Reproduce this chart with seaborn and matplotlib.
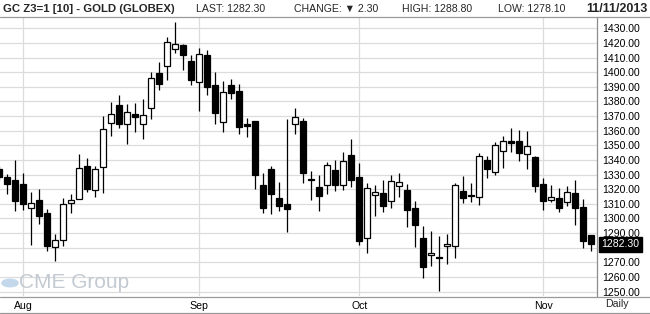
import numpy as np
import pandas as pd
import matplotlib
matplotlib.use("Agg")
import matplotlib.pyplot as plt
from matplotlib.lines import Line2D
from matplotlib.patches import Circle
import seaborn as sns

# ---------------- data ----------------
trading_days = pd.bdate_range("2013-07-29", "2013-11-11").drop(pd.Timestamp("2013-09-02"))

opens = [1334.0, 1328.2, 1326.4, 1323.6, 1307.0, 1312.7, 1303.8, 1280.3, 1285.0, 1310.4,
         1313.1, 1335.7, 1319.3, 1335.0, 1365.1, 1377.6, 1364.4, 1371.5, 1364.9, 1375.3,
         1399.2, 1404.0, 1415.6, 1418.6, 1407.7, 1393.1, 1411.5, 1391.3, 1365.8, 1391.0,
         1386.9, 1364.4, 1366.4, 1322.7, 1333.9, 1314.1, 1310.0, 1364.4, 1366.7, 1327.0,
         1321.3, 1322.7, 1333.0, 1322.7, 1343.2, 1328.2, 1286.5, 1315.9, 1317.2, 1311.8,
         1322.0, 1319.5, 1307.2, 1286.7, 1275.0, 1274.0, 1281.0, 1281.3, 1318.6, 1316.0,
         1314.5, 1339.8, 1331.6, 1345.9, 1353.0, 1352.8, 1343.9, 1341.8, 1323.4, 1312.5,
         1313.8, 1311.6, 1317.2, 1307.7, 1288.5]
highs = [1336.0, 1330.2, 1340.0, 1331.1, 1318.2, 1320.2, 1306.3, 1289.5, 1314.3, 1316.8,
         1344.4, 1341.2, 1336.2, 1370.1, 1379.4, 1384.4, 1378.1, 1379.0, 1381.7, 1399.9,
         1407.0, 1423.8, 1434.6, 1419.0, 1411.8, 1416.6, 1415.4, 1400.2, 1394.0, 1395.4,
         1392.0, 1368.5, 1366.6, 1330.9, 1335.9, 1325.2, 1368.0, 1375.6, 1368.7, 1332.5,
         1329.5, 1338.7, 1340.0, 1345.5, 1354.4, 1338.0, 1324.3, 1323.0, 1326.4, 1329.8,
         1331.1, 1323.6, 1312.0, 1294.9, 1291.5, 1288.1, 1289.5, 1324.1, 1329.1, 1324.3,
         1344.8, 1342.8, 1352.3, 1356.4, 1361.7, 1360.3, 1359.8, 1343.0, 1327.5, 1322.7,
         1321.1, 1322.3, 1326.6, 1313.6, 1288.8]
lows = [1326.0, 1316.8, 1305.4, 1306.1, 1282.2, 1296.5, 1278.1, 1271.2, 1281.5, 1304.0,
        1313.0, 1317.9, 1315.0, 1317.7, 1356.7, 1362.1, 1351.2, 1358.9, 1354.6, 1367.8,
        1388.1, 1394.7, 1413.4, 1401.5, 1391.5, 1373.7, 1384.7, 1364.9, 1358.9, 1381.9,
        1357.6, 1356.0, 1320.4, 1304.0, 1302.9, 1305.4, 1291.0, 1358.0, 1324.5, 1312.9,
        1305.4, 1316.6, 1319.0, 1319.5, 1321.6, 1281.9, 1276.7, 1302.0, 1304.7, 1307.4,
        1315.0, 1294.5, 1280.8, 1259.4, 1267.8, 1250.5, 1268.7, 1273.3, 1310.9, 1311.6,
        1309.5, 1328.0, 1330.0, 1334.8, 1345.7, 1339.6, 1334.1, 1318.4, 1305.6, 1311.1,
        1304.7, 1308.8, 1295.6, 1280.0, 1278.1]
closes = [1328.6, 1323.8, 1312.2, 1310.2, 1310.4, 1301.5, 1281.5, 1285.1, 1309.7, 1312.5,
          1334.3, 1320.0, 1333.6, 1361.0, 1371.5, 1364.9, 1372.6, 1369.2, 1370.8, 1395.8,
          1392.2, 1420.4, 1419.1, 1412.0, 1394.9, 1412.2, 1389.7, 1372.4, 1386.3, 1386.0,
          1362.8, 1363.0, 1330.0, 1307.4, 1317.0, 1308.8, 1306.8, 1369.2, 1331.4, 1326.4,
          1315.6, 1336.4, 1323.2, 1339.1, 1326.1, 1284.9, 1320.7, 1317.9, 1308.8, 1325.7,
          1324.8, 1306.1, 1295.8, 1267.1, 1276.5, 1273.3, 1282.4, 1322.7, 1313.8, 1315.3,
          1342.5, 1333.6, 1350.0, 1352.8, 1351.4, 1344.6, 1349.4, 1322.5, 1312.2, 1314.5,
          1307.4, 1317.9, 1307.4, 1284.6, 1282.3]

price_levels = list(range(1250, 1431, 10))
month_labels = ["Aug", "Sep", "Oct", "Nov"]
title = "GC Z3=1 [10] - GOLD (GLOBEX)"
last_price = 1282.30
header_items = [("LAST: 1282.30", 196), ("CHANGE: \u25BC 2.30", 294),
                ("HIGH: 1288.80", 402), ("LOW: 1278.10", 498)]
date_str = "11/11/2013"

# ---------------- build ----------------
df = pd.DataFrame({"date": trading_days, "open": opens, "high": highs,
                   "low": lows, "close": closes})
df["x"] = np.arange(len(df))
df["up"] = df["close"] >= df["open"]
df["bottom"] = df[["open", "close"]].min(axis=1)
df["height"] = (df["close"] - df["open"]).abs().clip(lower=0.7)

month_start = df["date"].dt.month != df["date"].dt.month.shift(1)
month_x = df.loc[month_start, "x"].tolist()[1:]

sns.set_style("white")
plt.rcParams["font.family"] = ["Liberation Sans", "DejaVu Sans"]

W, H = 650, 314
fig = plt.figure(figsize=(W / 100, H / 100), dpi=100)
fig.patch.set_facecolor("white")

ax_top, ax_bot, ax_right = 17, 296, 597
ax = fig.add_axes([0, 1 - ax_bot / H, ax_right / W, (ax_bot - ax_top) / H])
ax.set_facecolor("white")

# scale: 8px per candle, candle 0 centre at x=-0.7px
x0 = (0 + 0.7) / 8
x1 = (ax_right + 0.7) / 8
ax.set_xlim(x0, x1)
ppu = 1.463  # px per price unit
ax.set_ylim(1430 - (ax_bot - 28.3) / ppu, 1430 + (28.3 - ax_top) / ppu)

grid_c = "#dcdcdc"
for lv in price_levels:
    ax.axhline(lv, color=grid_c, lw=0.9, zorder=0)
for mx in month_x:
    ax.axvline(mx, color=grid_c, lw=0.9, zorder=0)

# watermark
wy = 1 - (283 - ax_top) / (ax_bot - ax_top)
ax.text(19 / ax_right, wy, "CME Group", transform=ax.transAxes, fontsize=15,
        color="#c3cad2", ha="left", va="center", zorder=1)
ax.add_patch(Circle((10 / ax_right, wy), 0.0135, transform=ax.transAxes,
                    color="#c3d8ea", zorder=1))

# candles
ax.vlines(df["x"], df["low"], df["high"], color="black", lw=0.9, zorder=2)
ax.bar(df["x"], df["height"], bottom=df["bottom"], width=0.72,
       color=np.where(df["up"], "white", "black"), edgecolor="black",
       linewidth=0.9, zorder=3)

# axes styling
for s in ["top", "left", "bottom"]:
    ax.spines[s].set_visible(False)
ax.spines["right"].set_color("#8c8c8c")
ax.spines["right"].set_linewidth(0.9)
ax.yaxis.tick_right()
ax.set_yticks(price_levels)
ax.set_yticklabels([f"{v:.2f}" for v in price_levels])
ax.set_xticks(month_x)
ax.set_xticklabels(month_labels)
ax.tick_params(axis="y", length=0, pad=3.5, labelsize=7.6, colors="black")
ax.tick_params(axis="x", length=0, pad=3.5, labelsize=7.6, colors="black")

# last price box
ax.annotate(f"{last_price:.2f}", xy=(1.0, last_price), xycoords=ax.get_yaxis_transform(),
            xytext=(3.3, 0), textcoords="offset points", ha="left", va="center",
            fontsize=7.6, color="white", zorder=10, annotation_clip=False,
            bbox=dict(boxstyle="square,pad=0.22", fc="black", ec="black"))

# frame lines
for yy in [16.5, ax_bot + 0.5, 312.5]:
    fig.add_artist(Line2D([0, 1], [1 - yy / H, 1 - yy / H], color="#9a9a9a", lw=0.9))

# header
fig.text(3 / W, 1 - 8.5 / H, title, fontsize=8.2, fontweight="bold",
         ha="left", va="center")
for txt, xp in header_items:
    fig.text(xp / W, 1 - 8.5 / H, txt, fontsize=7.6, ha="left", va="center")
fig.text(648 / W, 1 - 8.5 / H, date_str, fontsize=9, fontweight="bold",
         ha="right", va="center")
fig.text(617 / W, 1 - 304 / H, "Daily", fontsize=7.6, ha="center", va="center")

fig.savefig("out.png", dpi=100, facecolor="white")
